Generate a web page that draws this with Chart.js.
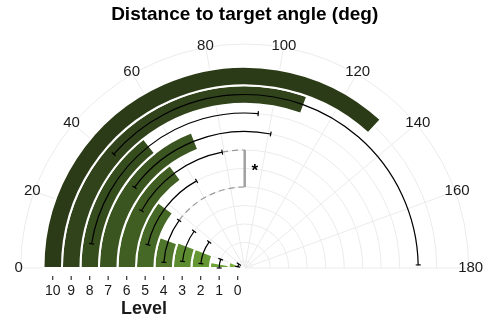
<!DOCTYPE html>
<html>
<head>
<meta charset="utf-8">
<style>
  html, body { margin: 0; padding: 0; background: #ffffff; }
  #wrap { width: 488px; height: 322px; position: relative; }
</style>
<script src="https://cdn.jsdelivr.net/npm/chart.js@4/dist/chart.umd.min.js"></script>
</head>
<body>
<div id="wrap"><canvas id="chart" width="488" height="322"></canvas></div>
<script>
// Levels on the radial axis (0 at the centre, 10 outermost)
const levels = ['0', '1', '2', '3', '4', '5', '6', '7', '8', '9', '10'];
// Mean distance to target angle per level (deg)
const meanDeg = [22, 10, 21, 21, 20, 37.3, 54, 68.6, 52, 110, 132.5];
// Standard error per level (deg); level 10 has none
const seDeg = [12, 10, 15.3, 15, 16, 23.8, 25, 32.4, 43, 69, null];
// Bar fill per level
const levelColors = ['#79ad3d', '#6fa338', '#659733', '#5c8b30', '#4f762a', '#466826',
                     '#405e22', '#3a551f', '#354c1c', '#30431a', '#2c3b17'];
// Angular axis
const angleMax = 180;
const angleTicks = [0, 20, 40, 60, 80, 100, 120, 140, 160, 180];
// Significance bracket between two levels
const sigLevels = [4, 6];
const sigAngle = 90;
const sigText = '*';

const FONT = '"Liberation Sans", Arial, Helvetica, sans-serif';
const GRID = '#ebebeb';
const CLEAR = 'rgba(0,0,0,0)';

// Outermost ring is empty space for the angle labels; level 0 ring is cut at the centre
const datasets = [{
  label: 'pad', data: [angleMax], backgroundColor: [CLEAR], borderWidth: 0, weight: 1.23
}];
for (let i = levels.length - 1; i >= 0; i--) {
  datasets.push({
    label: levels[i],
    data: [meanDeg[i], angleMax - meanDeg[i]],
    backgroundColor: [levelColors[i], CLEAR],
    borderColor: ['#ffffff', CLEAR],
    borderWidth: [2, 0],
    weight: i === 0 ? 0.88 : 1
  });
}

function geometry(chart) {
  const padMeta = chart.getDatasetMeta(0);
  const arc = padMeta.data[0];
  const cx = arc.x, cy = arc.y;
  const a0 = arc.startAngle, span = arc.endAngle - arc.startAngle;
  const outer = padMeta.controller.outerRadius;
  const dataOuter = padMeta.controller.innerRadius;
  const ring1 = chart.getDatasetMeta(levels.length - 1).controller;
  const step = ring1.outerRadius - ring1.innerRadius;
  const ang = v => a0 + (v / angleMax) * span;
  const rad = li => chart.getDatasetMeta(levels.length - li).controller.outerRadius - step / 2;
  const pt = (v, r) => [cx + r * Math.cos(ang(v)), cy + r * Math.sin(ang(v))];
  return { cx, cy, outer, dataOuter, step, ang, rad, pt };
}

const polarDecor = {
  id: 'polarDecor',
  beforeDatasetsDraw(chart) {
    const g = geometry(chart);
    const ctx = chart.ctx;
    ctx.save();
    ctx.strokeStyle = GRID;
    ctx.lineWidth = 1;
    // circles at each level and the outer rim
    const radii = levels.map((_, i) => g.rad(i)).concat([g.outer]);
    radii.forEach(r => {
      ctx.beginPath();
      ctx.arc(g.cx, g.cy, r, g.ang(0), g.ang(angleMax));
      ctx.stroke();
    });
    // spokes
    angleTicks.forEach(v => {
      const [x, y] = g.pt(v, g.outer);
      ctx.beginPath();
      ctx.moveTo(g.cx, g.cy);
      ctx.lineTo(x, y);
      ctx.stroke();
    });
    ctx.restore();
  },
  afterDatasetsDraw(chart) {
    const g = geometry(chart);
    const ctx = chart.ctx;
    ctx.save();
    // significance bracket
    ctx.strokeStyle = '#9a9a9a';
    ctx.lineWidth = 1.2;
    ctx.setLineDash([6, 4]);
    sigLevels.forEach(li => {
      const r = g.rad(li);
      ctx.beginPath();
      ctx.arc(g.cx, g.cy, r, g.ang(meanDeg[li] + seDeg[li]), g.ang(sigAngle));
      ctx.stroke();
    });
    ctx.setLineDash([]);
    ctx.lineWidth = 2.5;
    ctx.strokeStyle = '#a0a0a0';
    const [x1, y1] = g.pt(sigAngle, g.rad(sigLevels[0]));
    const [x2, y2] = g.pt(sigAngle, g.rad(sigLevels[1]));
    ctx.beginPath();
    ctx.moveTo(x1, y1);
    ctx.lineTo(x2, y2);
    ctx.stroke();
    ctx.fillStyle = '#000';
    ctx.font = 'bold 17px ' + FONT;
    ctx.textAlign = 'center';
    ctx.textBaseline = 'middle';
    ctx.fillText(sigText, (x1 + x2) / 2 + 10, (y1 + y2) / 2 + 3);

    // error arcs with radial caps
    ctx.strokeStyle = '#000';
    ctx.lineWidth = 1.2;
    levels.forEach((_, li) => {
      const se = seDeg[li];
      if (se == null) return;
      const r = g.rad(li);
      const lo = Math.max(0, meanDeg[li] - se), hi = Math.min(angleMax, meanDeg[li] + se);
      ctx.beginPath();
      ctx.arc(g.cx, g.cy, r, g.ang(lo), g.ang(hi));
      ctx.stroke();
      [lo, hi].forEach(v => {
        const [ax, ay] = g.pt(v, r - 2.5);
        const [bx, by] = g.pt(v, r + 2.5);
        ctx.beginPath();
        ctx.moveTo(ax, ay);
        ctx.lineTo(bx, by);
        ctx.stroke();
      });
    });

    // angle labels
    ctx.fillStyle = '#1a1a1a';
    ctx.font = '15px ' + FONT;
    ctx.textAlign = 'center';
    ctx.textBaseline = 'middle';
    angleTicks.forEach(v => {
      const [x, y] = g.pt(v, g.outer + 2);
      ctx.fillText(String(v), x, y);
    });

    // level axis below the centre line
    ctx.strokeStyle = '#333';
    ctx.lineWidth = 1.2;
    ctx.font = '14px ' + FONT;
    levels.forEach((lab, li) => {
      const [x] = g.pt(0, g.rad(li));
      ctx.beginPath();
      ctx.moveTo(x, g.cy + 8);
      ctx.lineTo(x, g.cy + 12);
      ctx.stroke();
      ctx.fillText(lab, x, g.cy + 23);
    });
    ctx.font = 'bold 18px ' + FONT;
    const [xMid] = g.pt(0, g.dataOuter / 2);
    ctx.fillText('Level', xMid, g.cy + 41);
    ctx.restore();
  }
};

new Chart(document.getElementById('chart'), {
  type: 'doughnut',
  data: { labels: ['mean', 'rest'], datasets },
  options: {
    responsive: false,
    animation: false,
    devicePixelRatio: 1,
    events: [],
    rotation: -90,
    circumference: 180,
    cutout: 0,
    layout: { padding: { left: 20.7, right: 19.3, top: 0, bottom: 53.5 } },
    plugins: {
      legend: { display: false },
      tooltip: { enabled: false },
      title: {
        display: true,
        text: 'Distance to target angle (deg)',
        color: '#000',
        font: { family: FONT, size: 19, weight: 'bold', lineHeight: 1.2 },
        padding: { top: 3, bottom: 17.7 }
      }
    }
  },
  plugins: [polarDecor]
});
</script>
</body>
</html>
